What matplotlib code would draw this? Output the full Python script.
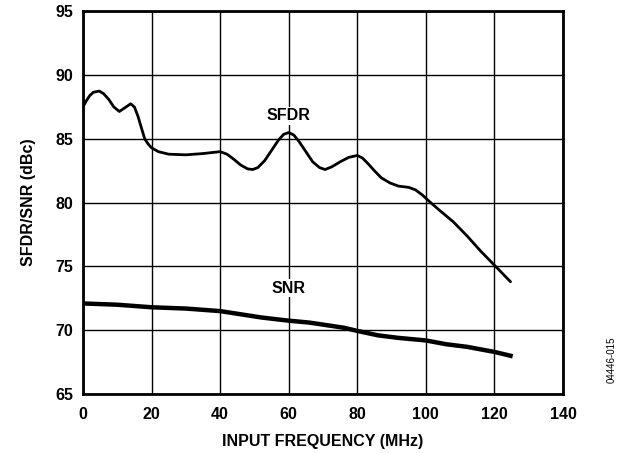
import matplotlib.pyplot as plt

plt.rcParams["font.family"] = ["Liberation Sans", "DejaVu Sans"]
plt.rcParams["font.weight"] = "bold"

# SFDR curve
sfdr_freq = [0, 1, 2, 3, 4.7, 6, 7.5, 9, 10.6, 12, 13.9, 15, 16, 17, 18, 19, 20, 22, 25,
             30, 35, 40, 42, 44, 46, 48, 49.5, 51, 53, 55, 57, 58.5, 60, 61.5, 63, 65,
             67, 69, 70.6, 72.5, 75, 77.5, 80, 81.5, 83, 85, 87, 89.5, 92, 95, 97, 99,
             101, 104, 108, 112, 116, 120, 124.7]
sfdr_db = [87.5, 88.0, 88.4, 88.65, 88.75, 88.55, 88.1, 87.5, 87.15, 87.4, 87.75, 87.5,
           86.8, 85.9, 85.0, 84.6, 84.3, 84.0, 83.8, 83.75, 83.85, 84.0, 83.8, 83.4,
           82.95, 82.65, 82.6, 82.75, 83.3, 84.1, 84.9, 85.35, 85.5, 85.3, 84.8, 84.0,
           83.2, 82.75, 82.6, 82.8, 83.2, 83.55, 83.7, 83.5, 83.1, 82.5, 81.95, 81.55,
           81.3, 81.2, 81.0, 80.6, 80.1, 79.4, 78.5, 77.4, 76.2, 75.1, 73.8]

# SNR curve
snr_freq = [0, 10, 20, 30, 40, 46, 52, 60, 66, 71, 76, 80, 86, 92, 100, 106, 112, 120, 124.7]
snr_db = [72.1, 72.0, 71.8, 71.7, 71.5, 71.25, 71.0, 70.75, 70.6, 70.4, 70.2, 69.95, 69.6,
          69.4, 69.2, 68.9, 68.7, 68.3, 68.0]

xticks = [0, 20, 40, 60, 80, 100, 120, 140]
yticks = [65, 70, 75, 80, 85, 90, 95]

fig = plt.figure(figsize=(6.36, 4.53), dpi=100)
ax = fig.add_axes([0.1305, 0.1302, 0.7547, 0.8448])

ax.plot(sfdr_freq, sfdr_db, color="black", lw=2.0, solid_joinstyle="round",
        solid_capstyle="round", zorder=3)
ax.plot(snr_freq, snr_db, color="black", lw=3.2, solid_joinstyle="round", zorder=3)

ax.set_xlim(0, 140)
ax.set_ylim(65, 95)
ax.set_xticks(xticks)
ax.set_yticks(yticks)
ax.grid(True, color="black", lw=1.0)
ax.tick_params(length=0, labelsize=11.5)
ax.tick_params(axis="x", pad=9)
ax.tick_params(axis="y", pad=7)
for s in ax.spines.values():
    s.set_linewidth(2.0)

ax.set_xlabel("INPUT FREQUENCY (MHz)", fontsize=11.5, fontweight="bold", labelpad=9)
ax.set_ylabel("SFDR/SNR (dBc)", fontsize=11.5, fontweight="bold", labelpad=14)

ax.text(60, 86.8, "SFDR", ha="center", va="center", fontsize=11.5, fontweight="bold",
        bbox=dict(facecolor="white", edgecolor="none", pad=1), zorder=4)
ax.text(60, 73.3, "SNR", ha="center", va="center", fontsize=11.5, fontweight="bold",
        bbox=dict(facecolor="white", edgecolor="none", pad=1), zorder=4)

fig.text(0.962, 0.205, "04446-015", rotation=90, ha="center", va="center",
         fontsize=7, fontweight="normal")

fig.savefig("out.png", dpi=100)
